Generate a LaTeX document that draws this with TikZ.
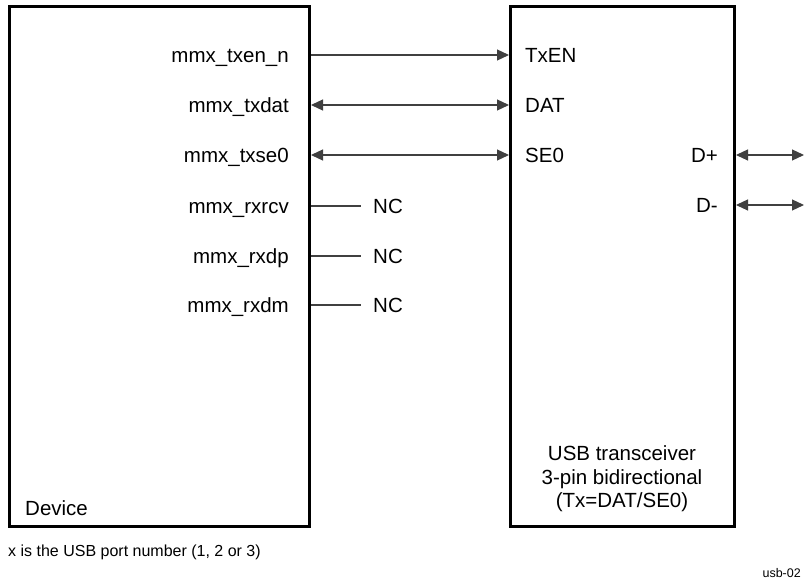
\documentclass[tikz,border=0pt]{standalone}
\usepackage{fontspec}
\setmainfont{Liberation Sans}
\usetikzlibrary{arrows.meta,positioning,calc}

\tikzset{
  blk/.style={draw, line width=2.6pt, anchor=north west, inner sep=0pt},
  lbl/.style={inner sep=0pt, text height=14.6pt, text depth=0pt},
  nc/.style={lbl, inner xsep=12pt, anchor=west},
  sig/.style={line width=1.2pt, draw=black!75},
  tip/.style={-{Triangle[length=12pt,width=11pt]}},
  bitip/.style={{Triangle[length=12pt,width=11pt]}-{Triangle[length=12pt,width=11pt]}}
}

\begin{document}
\begin{tikzpicture}[x=1pt,y=-1pt,font=\fontsize{20.5}{23.5}\selectfont]
  \useasboundingbox (0,0) rectangle (804,585);

  % the two blocks
  \node[blk,minimum width=300.4pt,minimum height=520.4pt] (dev) at (8,5) {};
  \node[blk,minimum width=224.4pt,minimum height=520.4pt] (xcvr) at (509,5) {};

  % device pins
  \foreach \nm/\txt/\y in {txen/mmx\_txen\_n/55, txdat/mmx\_txdat/105,
      txse0/mmx\_txse0/155, rxrcv/mmx\_rxrcv/206, rxdp/mmx\_rxdp/256,
      rxdm/mmx\_rxdm/305}
    \node[lbl,anchor=east] (\nm) at (289,\y) {\txt};

  % transceiver pins
  \node[lbl,anchor=west] (TxEN) at (525,55) {TxEN};
  \node[lbl,anchor=west] (DAT) at (525,105) {DAT};
  \node[lbl,anchor=west] (SE0) at (525,155) {SE0};
  \node[lbl,anchor=east] (dp) at (718,155) {D+};
  \node[lbl,anchor=east] (dm) at (718,205) {D-};

  % not connected
  \node[nc] (nc1) at (361,206) {NC};
  \node[nc] (nc2) at (361,256) {NC};
  \node[nc] (nc3) at (361,305) {NC};

  \node[lbl,anchor=west] (devlbl) at (25,508) {Device};
  \node[inner sep=0pt,align=center] (xlbl) at (622,479) {USB transceiver\\3-pin bidirectional\\(Tx=DAT/SE0)};

  \node[lbl,anchor=west,font=\fontsize{16}{18}\selectfont,text height=11.5pt] (note) at (8,551) {x is the USB port number (1, 2 or 3)};
  \node[lbl,anchor=east,font=\fontsize{12.5}{14}\selectfont,text height=9pt] (fig) at (801,573) {usb-02};

  % connections
  \draw[sig,tip] (dev.east |- txen) -- (xcvr.west |- TxEN);
  \draw[sig,bitip] (dev.east |- txdat) -- (xcvr.west |- DAT);
  \draw[sig,bitip] (dev.east |- txse0) -- (xcvr.west |- SE0);
  \draw[sig] (dev.east |- nc1) -- (nc1.west);
  \draw[sig] (dev.east |- nc2) -- (nc2.west);
  \draw[sig] (dev.east |- nc3) -- (nc3.west);

  \coordinate (dpend) at (804,155);
  \coordinate (dmend) at (804,205);
  \draw[sig,bitip] (xcvr.east |- dp) -- (dpend);
  \draw[sig,bitip] (xcvr.east |- dm) -- (dmend);
\end{tikzpicture}
\end{document}
